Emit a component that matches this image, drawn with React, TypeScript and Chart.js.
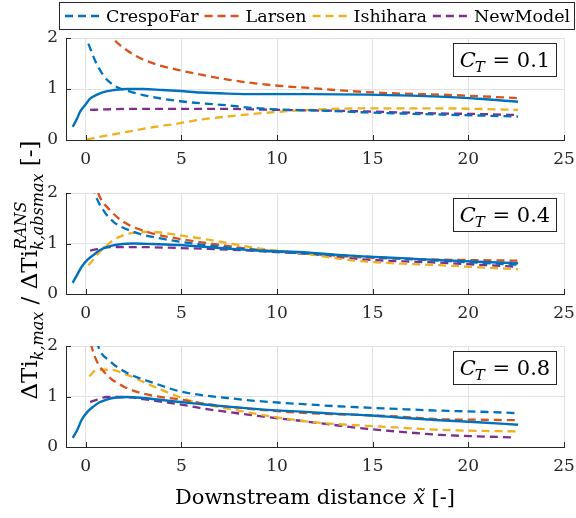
import React, { useEffect, useRef } from "react";
import { Chart, registerables } from "chart.js";

Chart.register(...registerables);

type Pt = [number, number];

// ---------------- data ----------------
const SERIES_NAMES = ["CrespoFar", "Larsen", "Ishihara", "NewModel"];
const SERIES_COLORS = ["#0072BD", "#D95319", "#EDB120", "#7E2F8E"];
const RANS_COLOR = "#0072BD";
const CT_VALUES = ["0.1", "0.4", "0.8"];
const X_TICKS = [0, 5, 10, 15, 20, 25];
const Y_TICKS = [0, 1, 2];
const X_TITLE_PRE = "Downstream distance ";
const X_TITLE_VAR = "x\u0303";
const X_TITLE_POST = " [-]";

// C_T = 0.1
const rans01: Pt[] = [[-0.68,0.26],[-0.45,0.42],[-0.3,0.55],[0,0.7],[0.23,0.81],[0.6,0.89],[0.92,0.94],[1.5,0.98],[2.15,1.0],[3,1.0],[4,0.98],[4.94,0.96],[6,0.93],[7.4,0.91],[9,0.9],[11.7,0.9],[14.7,0.89],[17,0.87],[18.5,0.85],[20.5,0.81],[22.6,0.75]];
const crespo01: Pt[] = [[0.14,1.89],[0.5,1.55],[0.92,1.27],[1.3,1.12],[1.8,1.01],[2.4,0.94],[3,0.88],[4,0.81],[4.94,0.76],[6,0.72],[7.4,0.68],[8.7,0.63],[10,0.6],[12,0.58],[14.7,0.54],[16.5,0.52],[18.5,0.5],[20.5,0.48],[22.6,0.46]];
const larsen01: Pt[] = [[0.5,2.6],[1.0,2.2],[1.45,1.98],[2.15,1.76],[3,1.58],[3.9,1.46],[5,1.36],[6.16,1.27],[7.5,1.18],[9.1,1.1],[10.5,1.05],[11.7,1.02],[13,0.98],[14.7,0.94],[16.5,0.91],[18.5,0.89],[20.5,0.86],[22.6,0.82]];
const ishihara01: Pt[] = [[0.05,0.01],[1,0.08],[2.15,0.16],[3.5,0.25],[4.94,0.33],[6,0.4],[7.4,0.46],[8.7,0.51],[10,0.55],[11.2,0.58],[13,0.61],[14.7,0.62],[16.5,0.62],[18.5,0.62],[20.5,0.61],[22.6,0.59]];
const newModel01: Pt[] = [[0.23,0.59],[1,0.6],[2.5,0.61],[4.94,0.61],[7.4,0.61],[10,0.59],[12,0.58],[14.7,0.56],[16.5,0.54],[18.5,0.52],[20.5,0.51],[22.6,0.49]];

// C_T = 0.4
const rans04: Pt[] = [[-0.68,0.22],[-0.45,0.38],[-0.21,0.54],[0.1,0.68],[0.4,0.77],[0.7,0.86],[1.1,0.93],[1.7,0.98],[2.5,1.0],[3.5,0.99],[4.94,0.97],[6,0.94],[7.4,0.9],[9,0.86],[11.7,0.82],[13,0.78],[14.7,0.74],[16.5,0.71],[18.5,0.67],[20.5,0.64],[22.6,0.61]];
const crespo04: Pt[] = [[0.25,2.4],[0.49,1.99],[0.92,1.66],[1.45,1.43],[2.5,1.23],[3.9,1.1],[5.6,1.0],[7.7,0.91],[9.5,0.85],[11.7,0.8],[14.7,0.74],[16.5,0.7],[18.5,0.66],[20.5,0.62],[22.6,0.58]];
const larsen04: Pt[] = [[0.3,2.5],[0.66,1.99],[1.27,1.66],[1.97,1.43],[3.2,1.23],[4.76,1.1],[6.5,1.0],[9.1,0.87],[11.7,0.8],[14.7,0.72],[16.5,0.7],[18.5,0.68],[20.5,0.67],[22.6,0.66]];
const ishihara04: Pt[] = [[0.14,0.57],[0.45,0.7],[0.75,0.84],[1.1,0.96],[1.45,1.07],[2.3,1.2],[3.37,1.23],[4.94,1.16],[6.5,1.07],[9.1,0.9],[11.7,0.79],[13,0.71],[14.7,0.64],[16.5,0.6],[18.5,0.57],[20.5,0.53],[22.6,0.49]];
const newModel04: Pt[] = [[0.23,0.86],[0.7,0.9],[1.27,0.93],[2.5,0.93],[4.94,0.91],[7.4,0.88],[9.5,0.84],[11.7,0.79],[14.7,0.68],[16.5,0.65],[18.5,0.62],[20.5,0.58],[22.6,0.54]];

// C_T = 0.8
const rans08: Pt[] = [[-0.68,0.18],[-0.45,0.33],[-0.21,0.54],[0.1,0.7],[0.4,0.8],[0.7,0.88],[1.1,0.94],[1.6,0.98],[2.15,0.99],[3,0.97],[4,0.93],[4.94,0.89],[6,0.85],[7.4,0.8],[9,0.75],[11.7,0.69],[13,0.66],[14.7,0.63],[16.5,0.58],[18.5,0.53],[20.5,0.49],[22.6,0.44]];
const crespo08: Pt[] = [[0.3,2.6],[0.66,1.99],[1.27,1.7],[2.15,1.47],[3.54,1.27],[4.94,1.1],[6,1.03],[7.4,0.97],[9,0.91],[11.7,0.84],[13,0.81],[14.7,0.78],[16.5,0.75],[18.5,0.72],[20.5,0.7],[22.6,0.67]];
const larsen08: Pt[] = [[0.15,2.3],[0.31,1.99],[0.58,1.7],[1.1,1.43],[1.97,1.2],[3.2,1.04],[4.94,0.94],[6,0.87],[7.4,0.8],[9,0.74],[11.7,0.67],[13,0.65],[14.7,0.63],[16.5,0.6],[18.5,0.55],[20.5,0.54],[22.6,0.53]];
const ishihara08: Pt[] = [[0.19,1.4],[0.58,1.53],[1.27,1.53],[2.15,1.43],[3.54,1.2],[5.28,0.94],[7.7,0.74],[10.85,0.54],[12.5,0.47],[14.7,0.42],[16.5,0.38],[18.5,0.34],[20.5,0.32],[22.6,0.31]];
const newModel08: Pt[] = [[0.23,0.89],[0.6,0.94],[1.1,0.99],[2.15,0.99],[3.0,0.95],[3.9,0.9],[5,0.84],[6,0.77],[7.5,0.69],[9.1,0.61],[11.2,0.52],[12.9,0.44],[14.7,0.36],[16.5,0.3],[18.5,0.24],[20.5,0.21],[22.4,0.19]];

// ---------------- layout / style ----------------
const FONT = "'DejaVu Serif', serif";
const INK = "#262626";
const GRID = "#e2e2e2";
const CANVAS_W = 600;
const CANVAS_H = 518;
const AREA_LEFT = 66;
const AREA_RIGHT = 564;
const X_MIN = -1.03;
const X_MAX = 25;

const PANELS = [
  { ct: CT_VALUES[0], rans: rans01, models: [crespo01, larsen01, ishihara01, newModel01], top: 38, bottom: 140 },
  { ct: CT_VALUES[1], rans: rans04, models: [crespo04, larsen04, ishihara04, newModel04], top: 193, bottom: 294 },
  { ct: CT_VALUES[2], rans: rans08, models: [crespo08, larsen08, ishihara08, newModel08], top: 346, bottom: 447 },
];

const toXY = (pts: Pt[]) => pts.map(([x, y]) => ({ x, y }));

function drawLegend(ctx: CanvasRenderingContext2D) {
  ctx.save();
  ctx.fillStyle = "#ffffff";
  ctx.fillRect(59.5, 2.5, 515, 27);
  ctx.strokeStyle = INK;
  ctx.lineWidth = 1;
  ctx.strokeRect(59.5, 2.5, 515, 27);
  ctx.font = `17.5px ${FONT}`;
  ctx.textBaseline = "middle";
  ctx.textAlign = "left";
  let x = 65;
  const y = 16;
  SERIES_NAMES.forEach((name, i) => {
    ctx.strokeStyle = SERIES_COLORS[i];
    ctx.lineWidth = 2.3;
    ctx.setLineDash([8, 5]);
    ctx.beginPath();
    ctx.moveTo(x, y);
    ctx.lineTo(x + 38, y);
    ctx.stroke();
    ctx.setLineDash([]);
    x += 41;
    ctx.fillStyle = "#000";
    ctx.fillText(name, x, y + 1);
    x += ctx.measureText(name).width + 6;
  });
  ctx.restore();
}

function drawYLabel(ctx: CanvasRenderingContext2D) {
  const cx = 37;
  const cy = 270;
  const mainF = `23px ${FONT}`;
  const smallF = `italic 16px ${FONT}`;
  type Piece = { t?: string; f?: string; dy?: number; sup?: string; sub?: string };
  const pieces: Piece[] = [
    { t: "\u0394Ti", f: mainF, dy: 0 },
    { t: "k,max", f: smallF, dy: 6 },
    { t: " / ", f: mainF, dy: 0 },
    { t: "\u0394Ti", f: mainF, dy: 0 },
    { sup: "RANS", sub: "k,absmax" },
    { t: " [-]", f: mainF, dy: 0 },
  ];
  ctx.save();
  const widths = pieces.map((p) => {
    if (p.sup) {
      ctx.font = smallF;
      return Math.max(ctx.measureText(p.sup).width, ctx.measureText(p.sub || "").width);
    }
    ctx.font = p.f as string;
    return ctx.measureText(p.t as string).width;
  });
  const total = widths.reduce((a, b) => a + b, 0);
  ctx.translate(cx, cy);
  ctx.rotate(-Math.PI / 2);
  ctx.fillStyle = "#000";
  ctx.textBaseline = "alphabetic";
  ctx.textAlign = "left";
  let u = -total / 2;
  pieces.forEach((p, i) => {
    if (p.sup) {
      ctx.font = smallF;
      ctx.fillText(p.sup, u, -11);
      ctx.fillText(p.sub || "", u, 6);
    } else {
      ctx.font = p.f as string;
      ctx.fillText(p.t as string, u, p.dy || 0);
    }
    u += widths[i];
  });
  ctx.restore();
}

function drawXTitle(ctx: CanvasRenderingContext2D, centerX: number) {
  const f = `21px ${FONT}`;
  const fi = `italic 21px ${FONT}`;
  ctx.save();
  ctx.font = f;
  const w1 = ctx.measureText(X_TITLE_PRE).width;
  const w3 = ctx.measureText(X_TITLE_POST).width;
  ctx.font = fi;
  const w2 = ctx.measureText(X_TITLE_VAR).width;
  let x = centerX - (w1 + w2 + w3) / 2;
  const base = 504;
  ctx.fillStyle = "#000";
  ctx.textBaseline = "alphabetic";
  ctx.textAlign = "left";
  ctx.font = f;
  ctx.fillText(X_TITLE_PRE, x, base);
  x += w1;
  ctx.font = fi;
  ctx.fillText(X_TITLE_VAR, x, base);
  x += w2;
  ctx.font = f;
  ctx.fillText(X_TITLE_POST, x, base);
  ctx.restore();
}

function drawCtBox(ctx: CanvasRenderingContext2D, top: number, value: string) {
  const x0 = 453.5;
  const w = 103;
  const y0 = Math.round(top) + 5.5;
  const h = 33;
  ctx.save();
  ctx.fillStyle = "#fff";
  ctx.fillRect(x0, y0, w, h);
  ctx.strokeStyle = INK;
  ctx.lineWidth = 1;
  ctx.strokeRect(x0, y0, w, h);
  const bigI = `italic 21px ${FONT}`;
  const subI = `italic 15px ${FONT}`;
  const big = `21px ${FONT}`;
  const rest = " = " + value;
  ctx.font = bigI;
  const wC = ctx.measureText("C").width;
  ctx.font = subI;
  const wT = ctx.measureText("T").width;
  ctx.font = big;
  const wR = ctx.measureText(rest).width;
  const total = wC + wT + wR;
  let x = x0 + (w - total) / 2;
  const base = y0 + h / 2 + 7;
  ctx.fillStyle = "#000";
  ctx.textBaseline = "alphabetic";
  ctx.font = bigI;
  ctx.fillText("C", x, base);
  x += wC;
  ctx.font = subI;
  ctx.fillText("T", x - 1, base + 5);
  x += wT;
  ctx.font = big;
  ctx.fillText(rest, x, base);
  ctx.restore();
}

function buildConfig(pi: number): any {
  const p = PANELS[pi];
  const datasets: any[] = [
    {
      label: "RANS",
      data: toXY(p.rans),
      borderColor: RANS_COLOR,
      borderWidth: 2.4,
      pointRadius: 0,
      fill: false,
      cubicInterpolationMode: "monotone",
      clip: 0,
    },
    ...p.models.map((m, i) => ({
      label: SERIES_NAMES[i],
      data: toXY(m),
      borderColor: SERIES_COLORS[i],
      borderWidth: 2.3,
      borderDash: [8, 5],
      pointRadius: 0,
      fill: false,
      cubicInterpolationMode: "monotone",
      clip: 0,
    })),
  ];
  const tickFont = { family: FONT, size: 17 };
  const overlay = {
    id: "overlay" + pi,
    afterDraw(chart: any) {
      const ctx = chart.ctx as CanvasRenderingContext2D;
      const xs = chart.scales.x;
      const ys = chart.scales.y;
      const area = chart.chartArea;
      ctx.save();
      ctx.strokeStyle = INK;
      ctx.lineWidth = 1;
      ctx.beginPath();
      X_TICKS.forEach((v) => {
        const px = Math.round(xs.getPixelForValue(v)) + 0.5;
        ctx.moveTo(px, area.bottom);
        ctx.lineTo(px, area.bottom - 5);
      });
      Y_TICKS.forEach((v) => {
        const py = Math.round(ys.getPixelForValue(v)) + 0.5;
        ctx.moveTo(area.left, py);
        ctx.lineTo(area.left + 5, py);
      });
      ctx.stroke();
      ctx.restore();
      drawCtBox(ctx, area.top, p.ct);
      if (pi === 0) drawLegend(ctx);
      if (pi === 1) drawYLabel(ctx);
      if (pi === 2) drawXTitle(ctx, (area.left + area.right) / 2);
    },
  };
  return {
    type: "line",
    data: { datasets },
    plugins: [overlay],
    options: {
      responsive: false,
      animation: false,
      events: [],
      layout: { padding: { left: 0, right: CANVAS_W - AREA_RIGHT, top: p.top, bottom: 0 } },
      plugins: { legend: { display: false }, tooltip: { enabled: false }, title: { display: false } },
      scales: {
        x: {
          type: "linear",
          min: X_MIN,
          max: X_MAX,
          afterFit: (s: any) => {
            s.height = CANVAS_H - p.bottom;
          },
          ticks: {
            stepSize: 5,
            includeBounds: false,
            autoSkip: false,
            maxRotation: 0,
            padding: 9,
            color: INK,
            font: tickFont,
          },
          grid: { color: GRID, lineWidth: 1, drawTicks: false },
          border: { color: INK, width: 1 },
          title: { display: false },
        },
        y: {
          type: "linear",
          min: 0,
          max: 2,
          afterFit: (s: any) => {
            s.width = AREA_LEFT;
          },
          ticks: { stepSize: 1, padding: 8, color: INK, font: tickFont },
          grid: { color: GRID, lineWidth: 1, drawTicks: false },
          border: { color: INK, width: 1 },
        },
      },
    },
  };
}

function Panel({ index }: { index: number }) {
  const ref = useRef<HTMLCanvasElement | null>(null);
  useEffect(() => {
    if (!ref.current) return;
    const chart = new Chart(ref.current, buildConfig(index));
    return () => chart.destroy();
  }, [index]);
  return (
    <canvas
      ref={ref}
      width={CANVAS_W}
      height={CANVAS_H}
      style={{ position: "absolute", left: 0, top: 0, width: CANVAS_W, height: CANVAS_H }}
    />
  );
}

export default function App() {
  return (
    <div
      style={{
        position: "absolute",
        left: 0,
        top: 0,
        width: 576,
        height: 518,
        overflow: "hidden",
        background: "#ffffff",
      }}
    >
      {PANELS.map((_, i) => (
        <Panel key={i} index={i} />
      ))}
    </div>
  );
}
